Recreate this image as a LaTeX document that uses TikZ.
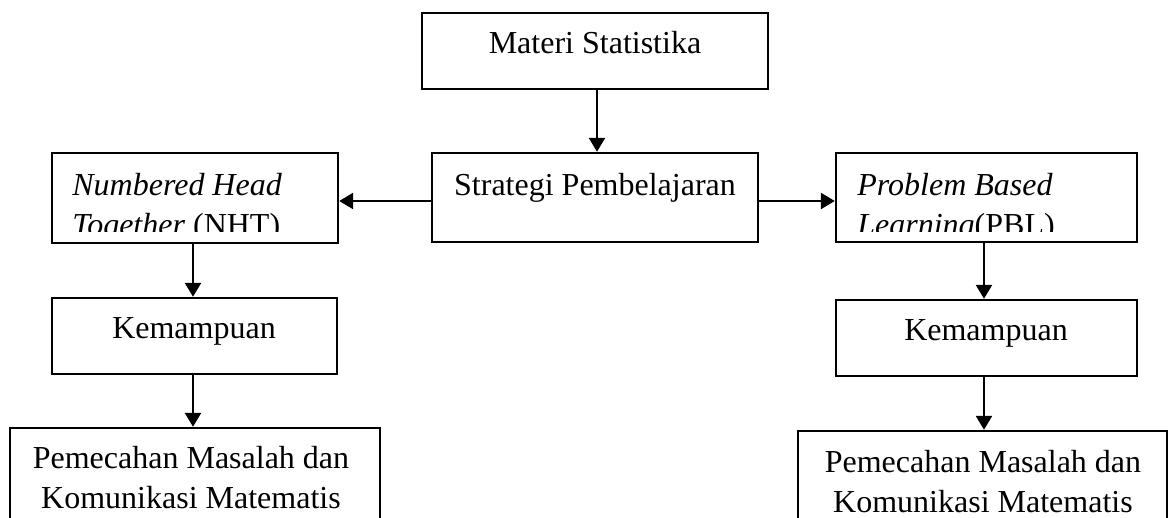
\documentclass[tikz,border=0pt]{standalone}
\usepackage{fontspec}
\setmainfont{Liberation Serif}
\usetikzlibrary{arrows.meta}
\tikzset{
  box/.style={draw=black, line width=1.2pt, inner sep=0pt, rectangle},
  txt/.style={inner sep=0pt, font=\fontsize{16}{20}\selectfont},
  arr/.style={line width=1.2pt, -{Triangle[length=7pt,width=8pt]}}
}
\begin{document}
\begin{tikzpicture}[x=0.5pt,y=-0.5pt]
\useasboundingbox (0,0) rectangle (1169,518);
\clip (0,0) rectangle (1169,518);
\fill[white] (0,0) rectangle (1169,518);

% boxes
\node[box, minimum width=173pt, minimum height=38pt] (m) at (595,51) {};
\node[box, minimum width=163pt, minimum height=44.5pt] (s) at (595,197.5) {};
\node[box, minimum width=143pt, minimum height=45pt] (n) at (195,198) {};
\node[box, minimum width=150.5pt, minimum height=44.5pt] (p) at (986.5,197.5) {};
\node[box, minimum width=142.5pt, minimum height=38pt] (k1) at (194.5,336) {};
\node[box, minimum width=150.5pt, minimum height=38pt] (k2) at (986.5,338) {};
\node[box, minimum width=185pt, minimum height=86pt] (pl) at (195,514) {};
\node[box, minimum width=184.5pt, minimum height=84.5pt] (pr) at (982.5,515.5) {};

% texts
\node[txt, anchor=base] (mt) at (595,54) {Materi Statistika};
\node[txt, anchor=base] (st) at (595,196) {Strategi Pembelajaran};
\node[txt, anchor=base west] (nt1) at (72,196) {\textit{Numbered Head}};
\begin{scope}
  \clip (54,150) rectangle (336,232);
  \node[txt, anchor=base west] (nt2) at (72,236) {\textit{Together} (NHT)};
\end{scope}
\node[txt, anchor=base west] (pt1) at (857,196) {\textit{Problem Based}};
\begin{scope}
  \clip (838,150) rectangle (1135,232);
  \node[txt, anchor=base west] (pt2) at (857,236) {\textit{Learning}(PBL)};
\end{scope}
\node[txt, anchor=base] (k1t) at (194,339) {Kemampuan};
\node[txt, anchor=base] (k2t) at (986,341) {Kemampuan};
\node[txt, anchor=base] (pl1) at (191,469) {Pemecahan Masalah dan};
\node[txt, anchor=base] (pl2) at (191,509) {Komunikasi Matematis};
\node[txt, anchor=base] (pr1) at (983,473) {Pemecahan Masalah dan};
\node[txt, anchor=base] (pr2) at (983,513) {Komunikasi Matematis};

% connectors
\draw[arr] ([xshift=1pt]m.south) -- ([xshift=1pt]m.south |- s.north);
\draw[arr] ([yshift=-1.75pt]s.west) -- ([yshift=-1.75pt]s.west -| n.east);
\draw[arr] ([yshift=-1.75pt]s.east) -- ([yshift=-1.75pt]s.east -| p.west);
\draw[arr] ([xshift=-1pt]n.south) -- ([xshift=-1pt]n.south |- k1.north);
\draw[arr] ([xshift=-0.75pt]k1.south) -- ([xshift=-0.75pt]k1.south |- pl.north);
\draw[arr] ([xshift=-1.25pt]p.south) -- ([xshift=-1.25pt]p.south |- k2.north);
\draw[arr] ([xshift=-1.25pt]k2.south) -- ([xshift=-1.25pt]k2.south |- pr.north);
\end{tikzpicture}
\end{document}
